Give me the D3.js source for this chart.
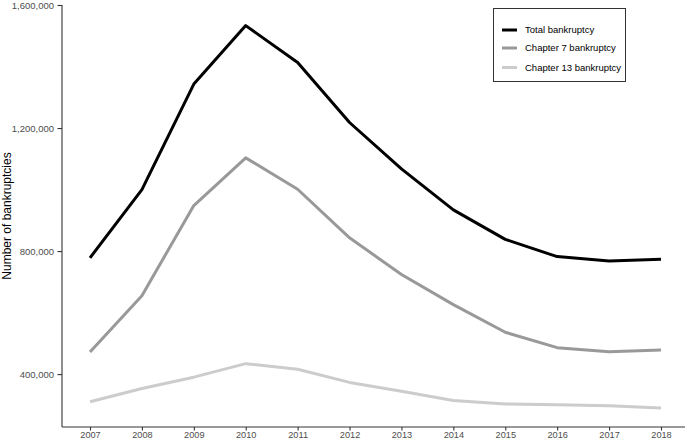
<!DOCTYPE html>
<html>
<head>
<meta charset="utf-8">
<script src="https://cdn.jsdelivr.net/npm/d3@7"></script>
<style>
  html, body { margin: 0; padding: 0; background: #fff; }
  svg { display: block; font-family: "Liberation Sans", Arial, sans-serif; }
</style>
</head>
<body>
<script>
const years = ["2007","2008","2009","2010","2011","2012","2013","2014","2015","2016","2017","2018"];
const totalBk = [778000, 1000000, 1343000, 1533000, 1413000, 1218000, 1067000, 934000, 838000, 782000, 768000, 773000];
const chapter7 = [472000, 655000, 948000, 1103000, 1001000, 843000, 724000, 626000, 536000, 486000, 473000, 478000];
const chapter13 = [310000, 353000, 390000, 434000, 416000, 373000, 344000, 314000, 303000, 300000, 297000, 290000];
const yTicks = [400000, 800000, 1200000, 1600000];
const seriesNames = ["Total bankruptcy", "Chapter 7 bankruptcy", "Chapter 13 bankruptcy"];
const seriesColors = ["#000000", "#999999", "#cccccc"];

const W = 685, H = 440;
const panel = { left: 62, right: 685, top: 5, bottom: 427 };

const svg = d3.select("body").append("svg").attr("width", W).attr("height", H);

const x = d3.scalePoint().domain(years).range([90, 661]);
const y = d3.scaleLinear().domain([228000, 1600000]).range([panel.bottom, panel.top]);

// axes
const yAxis = svg.append("g").attr("transform", `translate(${panel.left},0)`)
  .call(d3.axisLeft(y).tickValues(yTicks).tickFormat(d3.format(",")).tickSize(4.5).tickPadding(3.5));
yAxis.select(".domain").remove();
yAxis.append("line").attr("x1", 0).attr("x2", 0).attr("y1", panel.top).attr("y2", panel.bottom)
  .attr("stroke", "#333").attr("stroke-width", 1.1);
yAxis.selectAll(".tick line").attr("stroke", "#333").attr("stroke-width", 1.1);
yAxis.selectAll(".tick text").attr("fill", "#4d4d4d").style("font-size", "9.5px")
  .style("font-family", "Liberation Sans, Arial, sans-serif");

const xAxis = svg.append("g").attr("transform", `translate(0,${panel.bottom})`)
  .call(d3.axisBottom(x).tickSize(3.5).tickPadding(0.5));
xAxis.select(".domain").remove();
xAxis.append("line").attr("x1", panel.left).attr("x2", panel.right).attr("y1", 0).attr("y2", 0)
  .attr("stroke", "#333").attr("stroke-width", 1.1);
xAxis.selectAll(".tick line").attr("stroke", "#333").attr("stroke-width", 1.1);
xAxis.selectAll(".tick text").attr("fill", "#4d4d4d").style("font-size", "9.2px")
  .style("font-family", "Liberation Sans, Arial, sans-serif");

// y title
svg.append("text")
  .attr("transform", `translate(11,${(panel.top + panel.bottom) / 2}) rotate(-90)`)
  .attr("text-anchor", "middle")
  .style("font-size", "12px")
  .attr("fill", "#000")
  .text("Number of bankruptcies");

// lines
const line = d3.line().x((d, i) => x(years[i])).y(d => y(d));
const allSeries = [chapter13, chapter7, totalBk];
const allColors = [seriesColors[2], seriesColors[1], seriesColors[0]];
allSeries.forEach((s, k) => {
  svg.append("path").datum(s)
    .attr("d", line)
    .attr("fill", "none")
    .attr("stroke", allColors[k])
    .attr("stroke-width", 3)
    .attr("stroke-linejoin", "round");
});

// legend
const lg = svg.append("g");
lg.append("rect").attr("x", 493.5).attr("y", 8.5).attr("width", 132).attr("height", 73)
  .attr("fill", "#fff").attr("stroke", "#333").attr("stroke-width", 1);
const legendY = [30, 48, 67.5];
seriesNames.forEach((n, i) => {
  lg.append("line").attr("x1", 502).attr("x2", 517).attr("y1", legendY[i]).attr("y2", legendY[i])
    .attr("stroke", seriesColors[i]).attr("stroke-width", 3);
  lg.append("text").attr("x", 525).attr("y", legendY[i]).attr("dy", "0.35em")
    .style("font-size", "9.5px").attr("fill", "#000").text(n);
});
</script>
</body>
</html>
